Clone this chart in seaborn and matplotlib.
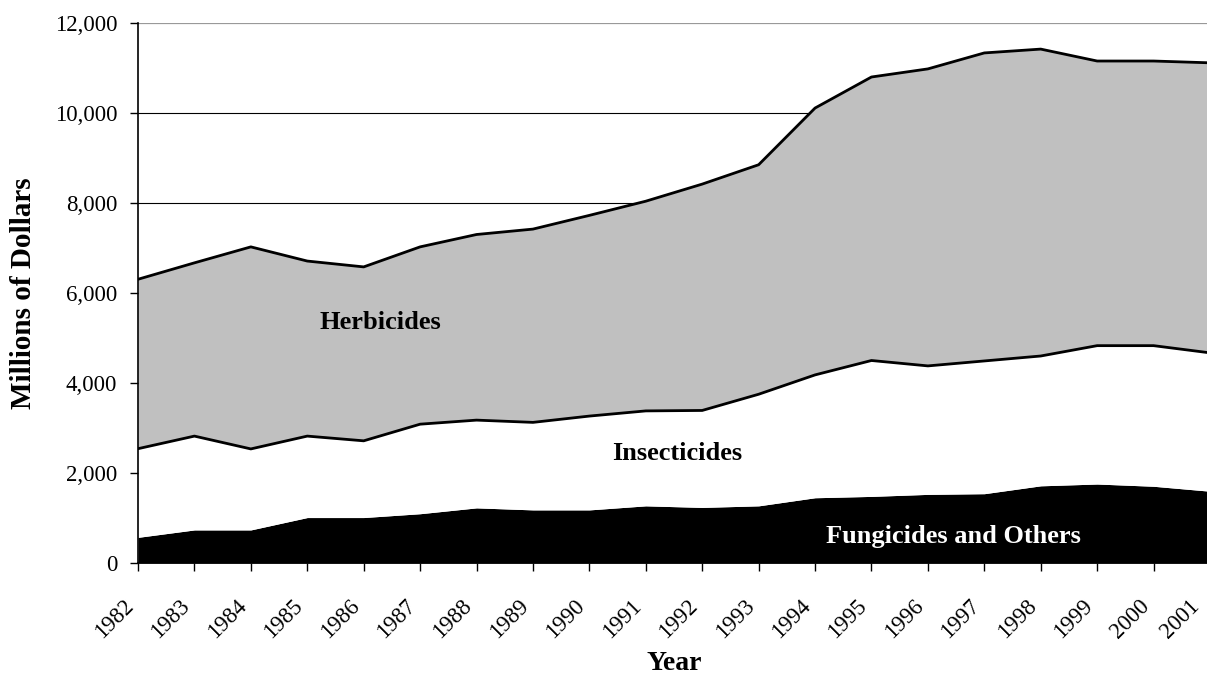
import numpy as np
import matplotlib
matplotlib.use("Agg")
import matplotlib.pyplot as plt
import matplotlib.ticker as ticker
import matplotlib.transforms as mtransforms
import seaborn as sns

# --- Data (millions of dollars) ---
years = list(range(1982, 2002))
fungicides = [570, 735, 735, 1010, 1010, 1095, 1225, 1180, 1180, 1270,
              1235, 1270, 1450, 1480, 1525, 1540, 1715, 1755, 1705, 1595]
insecticides = [1970, 2085, 1800, 1810, 1705, 1990, 1950, 1945, 2085, 2110,
                2155, 2480, 2730, 3020, 2855, 2950, 2885, 3075, 3125, 3075]
herbicides = [3765, 3850, 4490, 3890, 3865, 3940, 4125, 4295, 4460, 4660,
              5030, 5100, 5930, 6300, 6600, 6845, 6820, 6325, 6325, 6445]
y_ticks = [0, 2000, 4000, 6000, 8000, 10000, 12000]

# --- Style ---
sns.set_style("ticks")
plt.rcParams["font.family"] = ["Liberation Serif", "DejaVu Serif"]
plt.rcParams["text.color"] = "black"
plt.rcParams["axes.labelcolor"] = "black"

fig = plt.figure(figsize=(12.07, 6.77), dpi=100)
# plot area runs just past the right edge, as in the source image
ax = fig.add_axes([138 / 1207, 114 / 677, 1072 / 1207, 540 / 677])

ax.stackplot(years, fungicides, insecticides, herbicides,
             colors=["black", "white", "#c0c0c0"], linewidth=0, zorder=2)

# boundary lines on top of insecticides and herbicides
mid = np.array(fungicides) + np.array(insecticides)
total = mid + np.array(herbicides)
sns.lineplot(x=years, y=mid, color="black", linewidth=2, ax=ax, zorder=3)
sns.lineplot(x=years, y=total, color="black", linewidth=2, ax=ax, zorder=3)

ax.set_xlim(1982, 2001)
ax.set_ylim(0, 12000)
ax.set_xticks(years)
ax.set_yticks(y_ticks)
ax.yaxis.set_major_formatter(ticker.StrMethodFormatter("{x:,.0f}"))

ax.grid(axis="y", color="black", linewidth=0.8)
ax.yaxis.get_gridlines()[-1].set_color("#999999")
ax.yaxis.get_gridlines()[-1].set_linewidth(1.6)
ax.set_axisbelow(True)
for side in ["top", "right"]:
    ax.spines[side].set_visible(False)
for side in ["left", "bottom"]:
    ax.spines[side].set_linewidth(1.2)
    ax.spines[side].set_color("black")

ax.tick_params(axis="both", direction="out", length=5.5, width=1,
               color="black", labelsize=16.5, labelcolor="black")
ax.tick_params(axis="y", pad=9.5)
ax.tick_params(axis="x", pad=18)

# years at 45 degrees, ending just left of each tick
xlabels = ax.get_xticklabels()
for i, lab in enumerate(xlabels):
    dx = -15 if i < len(xlabels) - 1 else -21  # last one stays inside the image
    shift = mtransforms.ScaledTranslation(dx / 100, 0, fig.dpi_scale_trans)
    lab.set_rotation(45)
    lab.set_ha("right")
    lab.set_va("top")
    lab.set_rotation_mode("anchor")
    lab.set_transform(lab.get_transform() + shift)

ax.set_xlabel("Year", fontsize=20, fontweight="bold", color="black")
ax.xaxis.set_label_coords(0.5, -0.163)
ax.xaxis.label.set_va("top")
ax.set_ylabel("Millions of Dollars", fontsize=21, fontweight="bold", color="black")
ax.yaxis.set_label_coords(-0.094, 0.5)

# area labels
ax.text(1986.3, 5350, "Herbicides", fontsize=19, fontweight="bold",
        color="black", ha="center", va="center", zorder=4)
ax.text(1991.55, 2430, "Insecticides", fontsize=19, fontweight="bold",
        color="black", ha="center", va="center", zorder=4)
ax.text(1996.45, 600, "Fungicides and Others", fontsize=19, fontweight="bold",
        color="white", ha="center", va="center", zorder=4)

fig.savefig("out.png", dpi=100)
